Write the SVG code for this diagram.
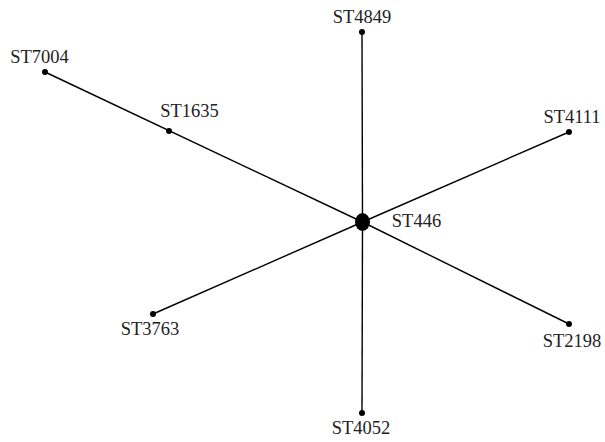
<svg xmlns="http://www.w3.org/2000/svg" width="605" height="442" viewBox="0 0 605 442">
<style>
.e{stroke:#000;stroke-width:1.4;fill:none}
.d{fill:#000}
.t{font-family:"Liberation Serif","Times New Roman",serif;font-size:18.5px;fill:#222;text-anchor:middle}
</style>
<rect width="605" height="442" fill="#fff"/>
<g id="connectors">
<line class="e" x1="362.5" y1="222" x2="45" y2="72"/>
<line class="e" x1="362.5" y1="222" x2="362" y2="32"/>
<line class="e" x1="362.5" y1="222" x2="569" y2="132"/>
<line class="e" x1="362.5" y1="222" x2="153" y2="314"/>
<line class="e" x1="362.5" y1="222" x2="569" y2="324"/>
<line class="e" x1="362.5" y1="222" x2="362" y2="413"/>
</g>
<g id="ST446"><ellipse class="d" cx="362.5" cy="222" rx="7.5" ry="9"/><text class="t" x="416.5" y="227">ST446</text></g>
<g id="ST4849"><circle class="d" cx="362" cy="32" r="3"/><text class="t" x="362" y="23">ST4849</text></g>
<g id="ST7004"><circle class="d" cx="45" cy="72" r="3"/><text class="t" x="39.5" y="63">ST7004</text></g>
<g id="ST1635"><circle class="d" cx="169" cy="131" r="3"/><text class="t" x="189.5" y="117">ST1635</text></g>
<g id="ST4111"><circle class="d" cx="569" cy="132" r="3"/><text class="t" x="572" y="123">ST4111</text></g>
<g id="ST3763"><circle class="d" cx="153" cy="314" r="3"/><text class="t" x="150" y="335">ST3763</text></g>
<g id="ST2198"><circle class="d" cx="569" cy="324" r="3"/><text class="t" x="572" y="347">ST2198</text></g>
<g id="ST4052"><circle class="d" cx="362" cy="413" r="3"/><text class="t" x="361" y="434">ST4052</text></g>
</svg>
